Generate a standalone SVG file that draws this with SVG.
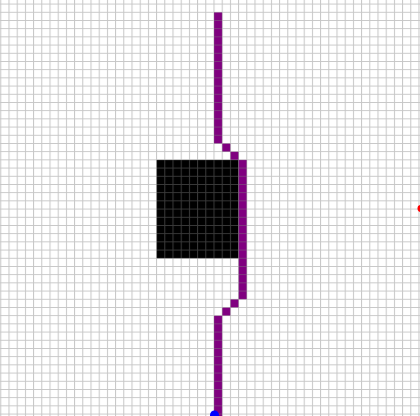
<svg xmlns="http://www.w3.org/2000/svg" width="420" height="416" viewBox="0 0 420 416">
  <defs>
    <style>
      .cell-path { fill: #800080; }
      .block { fill: #000000; }
      .grid-line { stroke: #808080; stroke-opacity: 0.45; stroke-width: 1; fill: none; }
    </style>
    <pattern id="grid" x="0.3" y="3.6" width="8.2" height="8.2" patternUnits="userSpaceOnUse">
      <path class="grid-line" d="M0.5 0 V8.2 M0 0.5 H8.2"/>
    </pattern>
  </defs>
  <rect x="0" y="0" width="420" height="416" fill="#ffffff"/>
  <g id="obstacle">
    <rect class="block" x="156.6" y="159.9" width="82" height="98.4"/>
  </g>
  <g id="connectors">
    <rect class="cell-path" x="214" y="12.3" width="8.2" height="131.2"/>
    <rect class="cell-path" x="222.2" y="143.5" width="8.2" height="8.2"/>
    <rect class="cell-path" x="230.4" y="151.7" width="8.2" height="8.2"/>
    <rect class="cell-path" x="238.6" y="159.9" width="8.2" height="139.4"/>
    <rect class="cell-path" x="230.4" y="299.3" width="8.2" height="8.2"/>
    <rect class="cell-path" x="222.2" y="307.5" width="8.2" height="8.2"/>
    <rect class="cell-path" x="214" y="315.7" width="8.2" height="100.3"/>
  </g>
  <rect x="0" y="0" width="420" height="416" fill="url(#grid)"/>
  <g id="start">
    <circle cx="214.5" cy="415" r="4.5" fill="#0000ff"/>
  </g>
  <g id="goal">
    <circle cx="421" cy="208.5" r="3.5" fill="#ff0000"/>
  </g>
</svg>
